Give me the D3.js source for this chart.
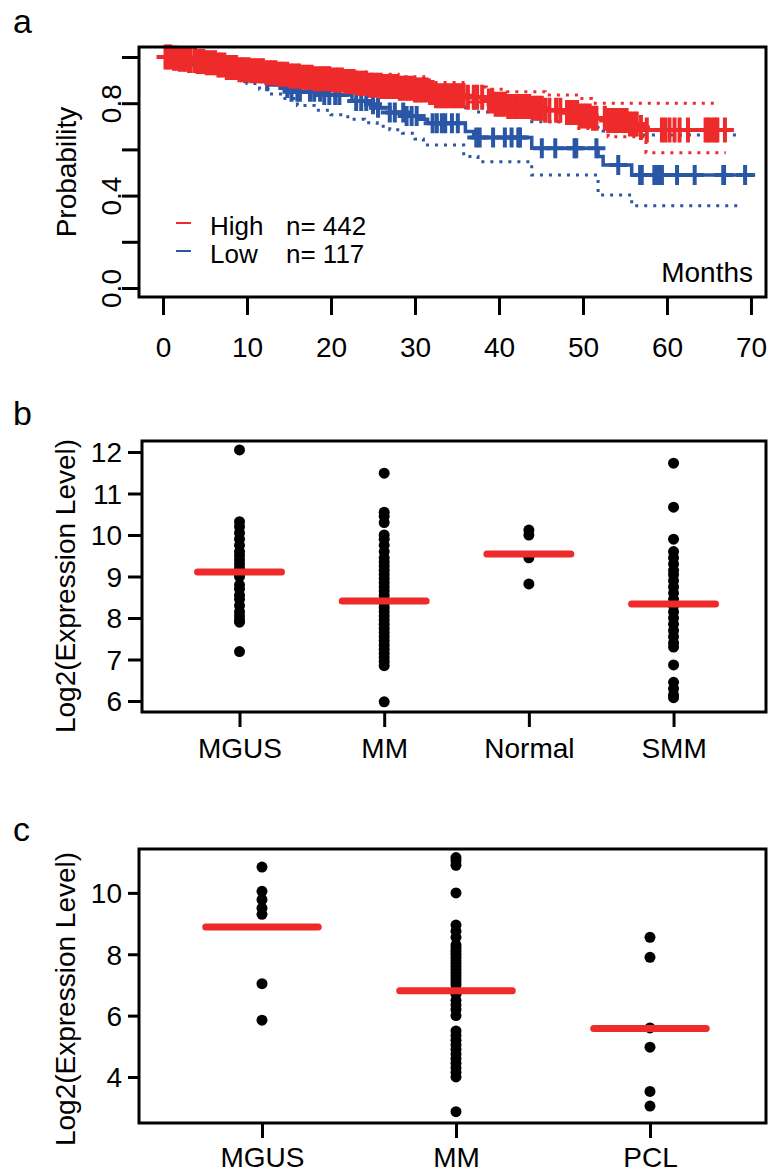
<!DOCTYPE html>
<html>
<head>
<meta charset="utf-8">
<script src="https://cdnjs.cloudflare.com/ajax/libs/d3/7.8.5/d3.min.js"></script>
<style>
  body { margin: 0; background: #fff; }
  svg text, .tick text { font-family: "Liberation Sans", Arial, sans-serif; font-size: 28px; fill: #000; }
  .tick line { stroke: #000; stroke-width: 3; }
</style>
</head>
<body>
<svg id="vis-svg"></svg>
<script>
/* panel a: survival curves (months, probability) */
const monthTicks = [0, 10, 20, 30, 40, 50, 60, 70];
const probTicks = [0, 0.2, 0.4, 0.6, 0.8, 1.0];
const probLabels = [0, 0.4, 0.8];

// step points [month, survival]
const highSteps = [[0,1],[1,0.995],[2,0.99],[3,0.985],[4,0.98],[5,0.975],[6.5,0.965],[7.5,0.955],[9,0.945],[10.5,0.94],[12,0.932],[13.5,0.925],[15,0.918],[16.5,0.912],[18,0.906],[20,0.9],[21.5,0.894],[23,0.886],[24.5,0.878],[26,0.872],[28,0.865],[30,0.857],[31.5,0.846],[32.5,0.832],[36,0.826],[38.5,0.81],[39.5,0.795],[41,0.786],[44,0.778],[45.5,0.77],[48,0.76],[49.5,0.745],[51,0.735],[53,0.725],[55.5,0.71],[56.5,0.695],[57.5,0.684]];
const highEnd = 67.7;
const highUpper = [[0,1],[3,0.995],[6.5,0.985],[9,0.975],[12,0.965],[15,0.955],[18,0.945],[21.5,0.935],[24.5,0.925],[28,0.915],[31.5,0.9],[32.5,0.89],[36,0.87],[38.5,0.86],[41,0.85],[45.5,0.835],[49.5,0.82],[51,0.8]];
const highUpperEnd = 66;
const highLower = [[0,1],[2,0.985],[4,0.97],[6.5,0.955],[9,0.935],[12,0.92],[15,0.905],[18,0.89],[21.5,0.875],[24.5,0.86],[28,0.845],[31.5,0.83],[32.5,0.815],[36,0.805],[39.5,0.77],[44,0.755],[45.5,0.72],[49.5,0.69],[53,0.655],[57.5,0.586]];
const highLowerEnd = 67;
const highCensor = [0.3,0.6,0.9,1.3,1.6,2.0,2.4,2.7,3.1,3.3,3.8,4.1,4.5,4.8,5.2,5.5,5.9,6.2,6.6,6.9,7.3,7.6,8.0,8.4,8.7,9.1,9.4,9.8,10.2,10.5,10.9,11.2,11.6,11.9,12.3,12.7,13.0,13.4,13.8,14.1,14.4,14.8,15.2,15.5,15.9,16.2,16.6,17.0,17.3,17.7,18.0,18.4,18.8,19.1,19.5,19.8,20.2,20.6,20.9,21.3,21.7,22.0,22.4,22.7,23.1,23.5,23.8,24.2,24.6,24.9,25.3,25.6,26.0,26.4,26.7,27.1,27.4,27.8,28.2,28.5,28.9,29.2,29.6,30.0,30.3,30.7,31.0,31.4,31.8,32.1,32.5,32.8,33.2,33.6,33.9,34.3,34.7,35.0,35.4,35.8,36.3,37.0,37.4,38.0,38.8,39.2,39.6,40.0,40.3,40.7,41.1,41.4,41.8,42.2,42.5,42.9,43.3,43.6,44.0,44.4,44.7,45.1,45.5,46.0,46.8,47.3,48.1,48.5,48.9,49.3,49.6,50.0,50.4,50.8,51.2,51.6,52.6,53.0,53.4,53.7,54.1,54.5,54.8,55.2,55.6,56.0,56.4,56.9,57.6,59.4,59.8,60.3,60.9,61.5,62.5,64.6,64.9,65.3,65.7,66.0,66.9];

const lowSteps = [[0,1],[1.5,0.991],[3,0.982],[4.5,0.974],[6,0.965],[7,0.956],[8.5,0.947],[9.5,0.93],[10.5,0.912],[11.5,0.895],[12.5,0.879],[14,0.866],[15,0.85],[19,0.835],[22.5,0.81],[24.5,0.795],[25.5,0.78],[27,0.76],[29,0.745],[30.5,0.73],[31.5,0.713],[36,0.677],[37,0.652],[43.9,0.605],[51.8,0.569],[52.4,0.532],[55.8,0.489]];
const lowEnd = 70.5;
const lowUpper = [[0,1],[8.5,0.99],[9.5,0.98],[10.5,0.965],[11.5,0.955],[12.5,0.945],[14,0.935],[15,0.92],[19,0.91],[22.5,0.89],[24.5,0.875],[25.5,0.865],[27,0.845],[29,0.83],[30.5,0.815],[31.5,0.8],[36,0.78],[37,0.762],[43.9,0.72],[51.8,0.69],[52.4,0.68],[55.8,0.662]];
const lowUpperEnd = 68.5;
const lowLower = [[0,1],[1,0.99],[2.5,0.965],[3.5,0.945],[6,0.93],[8,0.91],[10,0.885],[11.5,0.86],[12.5,0.84],[14,0.82],[16,0.79],[18,0.77],[20,0.75],[22,0.73],[24,0.715],[25.5,0.7],[27,0.685],[28.5,0.67],[30,0.645],[31,0.619],[35.8,0.569],[37.5,0.547],[43.9,0.489],[51.8,0.403],[55.8,0.356]];
const lowLowerEnd = 69;
const lowCensor = [1.2,2.0,4.5,9.8,12.4,14.8,15.3,16.0,16.3,17.5,18.0,18.7,19.2,19.8,20.5,21.0,23.0,23.6,24.2,25.0,25.6,27.0,27.6,28.6,29.0,29.6,30.2,32.1,32.6,33.2,33.6,34.4,35.1,37.3,37.7,39.3,40.7,41.5,42.3,42.5,45.1,46.7,49.0,49.2,51.6,54.2,56.8,57.0,58.5,58.7,59.0,59.2,59.4,61.2,63.3,66.7,66.8,69.3];

const legendNames = ["High", "Low"];
const legendCounts = [442, 117];

/* panel b: expression by group */
const groupsB = ["MGUS", "MM", "Normal", "SMM"];
const ticksB = [6, 7, 8, 9, 10, 11, 12];
const mgusB = [12.05,10.32,10.2,10.05,9.9,9.75,9.6,9.5,9.4,9.3,9.2,9.1,9.0,8.8,8.7,8.55,8.45,8.3,8.15,8.05,7.95,7.9,7.19];
const mmB = [11.49,10.55,10.45,10.3,10.0,9.9,9.75,9.6,9.45,9.35,9.25,9.15,9.05,8.95,8.85,8.75,8.65,8.55,8.45,8.35,8.25,8.15,8.05,7.95,7.85,7.75,7.65,7.55,7.45,7.35,7.25,7.15,7.05,6.95,6.85,5.98];
const normalB = [10.12,10.0,9.45,8.82];
const smmB = [11.73,10.67,9.9,9.6,9.45,9.3,9.15,9.05,8.9,8.75,8.6,8.45,8.3,8.15,8.0,7.85,7.7,7.55,7.4,7.3,6.87,6.45,6.3,6.15,6.08];
const meansB = [9.11, 8.41, 9.54, 8.34];

/* panel c: expression by group */
const groupsC = ["MGUS", "MM", "PCL"];
const ticksC = [4, 6, 8, 10];
const mgusC = [10.84,10.05,9.78,9.5,9.3,7.04,5.85];
const mmC = [11.15,11.05,10.9,10.0,8.95,8.75,8.55,8.3,8.2,8.1,8.0,7.9,7.8,7.7,7.6,7.5,7.4,7.3,7.2,7.1,7.0,6.7,6.5,6.35,6.2,6.0,5.5,5.35,5.2,5.05,4.9,4.75,4.6,4.45,4.3,4.15,4.0,2.87];
const pclC = [8.55,7.9,5.6,4.97,3.53,3.05];
const meansC = [8.89, 6.81, 5.58];

const red = "#ee2a2a";
const blue = "#2a56a6";

// survival value of a step curve at time t
function stepAt(steps, t) {
    let i = d3.bisector(d => d[0]).right(steps, t) - 1;
    return steps[Math.max(i, 0)][1];
}

let svg = d3.select("#vis-svg")
    .attr("width", 769)
    .attr("height", 1174);

function panelLabel(txt, x, y) {
    svg.append("text").attr("x", x).attr("y", y)
        .style("font-size", "34px")
        .text(txt);
}

function yTitle(txt, x, y) {
    svg.append("text")
        .attr("transform", `translate(${x},${y}) rotate(-90)`)
        .attr("text-anchor", "middle")
        .text(txt);
}

function frame(box) {
    svg.append("rect")
        .attr("x", box.l).attr("y", box.t)
        .attr("width", box.r - box.l).attr("height", box.b - box.t)
        .attr("fill", "none").attr("stroke", "#000").attr("stroke-width", 3);
}

/* ---------- panel a ---------- */
let boxA = {l: 139, t: 47, r: 766, b: 297};
let xA = d3.scaleLinear().domain([-2.857, 71.79]).range([boxA.l, boxA.r]);
let yA = d3.scaleLinear().domain([-0.039, 1.0433]).range([boxA.b, boxA.t]);

panelLabel("a", 13, 33);
yTitle("Probability", 76, 172);

let xAxisA = svg.append("g")
    .attr("transform", `translate(0, ${boxA.b})`)
    .call(d3.axisBottom(xA).tickValues(monthTicks).tickSize(18).tickSizeOuter(0));
xAxisA.select(".domain").remove();
xAxisA.selectAll("text").attr("y", 60).attr("dy", 0);

let yAxisA = svg.append("g")
    .attr("transform", `translate(${boxA.l}, 0)`)
    .call(d3.axisLeft(yA).tickValues(probTicks).tickSize(17).tickSizeOuter(0)
        .tickFormat(d => probLabels.includes(d) ? d3.format(".1f")(d) : ""));
yAxisA.select(".domain").remove();
yAxisA.selectAll("text")
    .attr("transform", "rotate(-90)")
    .attr("text-anchor", "middle")
    .attr("x", 0).attr("y", -18).attr("dy", 0);

let stepLine = d3.line()
    .x(d => xA(d[0]))
    .y(d => yA(d[1]))
    .curve(d3.curveStepAfter);

function drawCurve(steps, end, color, dotted, width) {
    let pts = steps.concat([[end, steps[steps.length - 1][1]]]);
    svg.append("path")
        .attr("d", stepLine(pts))
        .attr("fill", "none")
        .attr("stroke", color)
        .attr("stroke-width", width)
        .attr("stroke-dasharray", dotted ? "3 6" : null);
}

function drawCensor(steps, times, color, half) {
    svg.append("g").selectAll("path")
        .data(times)
        .enter()
            .append("path")
            .attr("d", t => {
                let cx = xA(t), cy = yA(stepAt(steps, t));
                return `M${cx - 9},${cy}H${cx + 9}M${cx},${cy - half}V${cy + half}`;
            })
            .attr("stroke", color)
            .attr("stroke-width", 4)
            .attr("fill", "none");
}

drawCurve(lowUpper, lowUpperEnd, blue, true, 3);
drawCurve(lowLower, lowLowerEnd, blue, true, 3);
drawCurve(lowSteps, lowEnd, blue, false, 3.5);
drawCensor(lowSteps, lowCensor, blue, 10);

drawCurve(highUpper, highUpperEnd, red, true, 3);
drawCurve(highLower, highLowerEnd, red, true, 3);
drawCurve(highSteps, highEnd, red, false, 3.5);
drawCensor(highSteps, highCensor, red, 12.5);

// legend
[red, blue].forEach((c, i) => {
    let ly = 235 + i * 28;
    svg.append("line")
        .attr("x1", 176).attr("x2", 191)
        .attr("y1", ly - 12).attr("y2", ly - 12)
        .attr("stroke", c).attr("stroke-width", 2);
    svg.append("text").attr("x", 210).attr("y", ly)
        .style("font-size", "26px").text(legendNames[i]);
    svg.append("text").attr("x", 286).attr("y", ly)
        .style("font-size", "26px").text("n= " + legendCounts[i]);
});

svg.append("text")
    .attr("x", 753).attr("y", 282)
    .attr("text-anchor", "end")
    .text("Months");

frame(boxA);

/* ---------- strip charts b and c ---------- */
function stripChart(opts) {
    let box = opts.box;
    let x = d3.scaleLinear().domain(opts.xDomain).range([box.l, box.r]);
    let y = d3.scaleLinear().domain(opts.yDomain).range([box.b, box.t]);
    let cats = opts.groups.map((g, i) => i + 1);

    let xAxis = svg.append("g")
        .attr("transform", `translate(0, ${box.b})`)
        .call(d3.axisBottom(x).tickValues(cats).tickSize(15).tickSizeOuter(0)
            .tickFormat(i => opts.groups[i - 1]));
    xAxis.select(".domain").remove();
    xAxis.selectAll("text").attr("y", opts.labelY).attr("dy", 0);

    let yAxis = svg.append("g")
        .attr("transform", `translate(${box.l}, 0)`)
        .call(d3.axisLeft(y).tickValues(opts.ticks).tickSize(opts.tickLen).tickSizeOuter(0)
            .tickFormat(d3.format("d")));
    yAxis.select(".domain").remove();
    yAxis.selectAll("text").attr("x", -(opts.tickLen + 6)).attr("dy", "0.35em");

    // dots per group
    opts.values.forEach((vals, i) => {
        svg.append("g").selectAll("circle")
            .data(vals)
            .enter()
                .append("circle")
                .attr("cx", x(i + 1))
                .attr("cy", d => y(d))
                .attr("r", 5.5)
                .attr("fill", "#000");
    });

    // red mean bars
    svg.append("g").selectAll("line")
        .data(opts.means)
        .enter()
            .append("line")
            .attr("x1", (d, i) => x(i + 1 - 0.29))
            .attr("x2", (d, i) => x(i + 1 + 0.29))
            .attr("y1", d => y(d))
            .attr("y2", d => y(d))
            .attr("stroke", red)
            .attr("stroke-width", 7)
            .attr("stroke-linecap", "round");

    frame(box);
}

panelLabel("b", 13, 425);
yTitle("Log2(Expression Level)", 75, 586);
stripChart({
    box: {l: 142, t: 441, r: 766, b: 712},
    xDomain: [0.326, 4.639],
    yDomain: [5.735, 12.265],
    groups: groupsB,
    ticks: ticksB,
    tickLen: 14,
    labelY: 46,
    values: [mgusB, mmB, normalB, smmB],
    means: meansB
});

panelLabel("c", 13, 841);
yTitle("Log2(Expression Level)", 75, 999);
stripChart({
    box: {l: 139, t: 849, r: 766, b: 1123},
    xDomain: [0.366, 3.598],
    yDomain: [2.5, 11.43],
    groups: groupsC,
    ticks: ticksC,
    tickLen: 11,
    labelY: 44,
    values: [mgusC, mmC, pclC],
    means: meansC
});
</script>
</body>
</html>
